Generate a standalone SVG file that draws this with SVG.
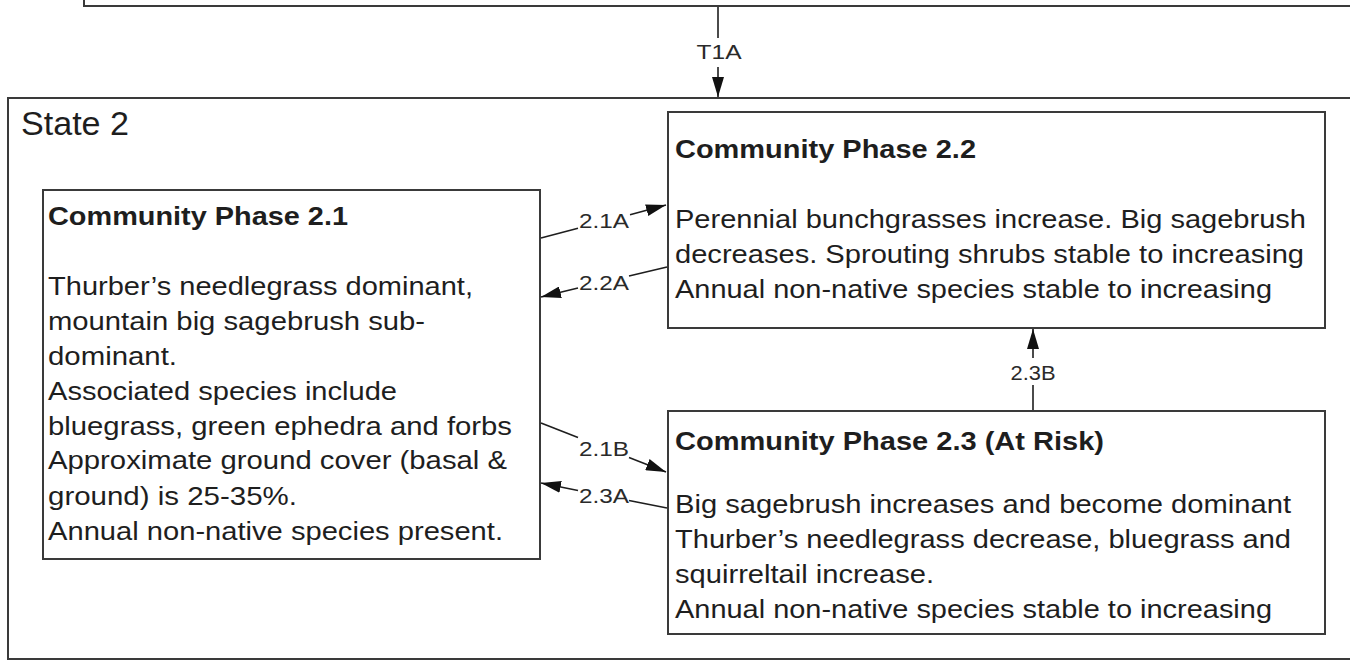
<svg xmlns="http://www.w3.org/2000/svg" width="1350" height="664" viewBox="0 0 1350 664">
<defs>
<style>
.box{fill:#fff;stroke:#3a3a3a;stroke-width:2}
.t{font-family:"Liberation Sans",Arial,sans-serif;font-size:26px;fill:#1e1e1e}
.h{font-weight:bold}
.st{font-family:"Liberation Sans",Arial,sans-serif;font-size:33px;fill:#1e1e1e}
.lb{font-family:"Liberation Sans",Arial,sans-serif;font-size:21px;fill:#2a2a2a;text-anchor:middle}
.c{fill:none;stroke:#1e1e1e;stroke-width:1.6}
</style>
<marker id="ah" viewBox="0 0 20 12" refX="20" refY="6" markerWidth="20" markerHeight="12" markerUnits="userSpaceOnUse" orient="auto">
<path d="M0,0 L20,6 L0,12 Z" fill="#111"/>
</marker>
</defs>
<rect width="1350" height="664" fill="#fff"/>
<g id="state1">
<rect class="box" x="84" y="-20" width="1290" height="26"/>
</g>
<g id="state2">
<rect class="box" x="8" y="98" width="1345" height="561"/>
<text class="st" x="21" y="135" textLength="108" lengthAdjust="spacingAndGlyphs">State 2</text>
</g>
<g id="phase21">
<rect class="box" x="43" y="190" width="497" height="369"/>
<text class="t h" x="48" y="225" textLength="300" lengthAdjust="spacingAndGlyphs">Community Phase 2.1</text>
<text class="t" x="48" y="295" textLength="425" lengthAdjust="spacingAndGlyphs">Thurber’s needlegrass dominant,</text>
<text class="t" x="48" y="330" textLength="377" lengthAdjust="spacingAndGlyphs">mountain big sagebrush sub-</text>
<text class="t" x="48" y="365" textLength="129" lengthAdjust="spacingAndGlyphs">dominant.</text>
<text class="t" x="48" y="400" textLength="349" lengthAdjust="spacingAndGlyphs">Associated species include</text>
<text class="t" x="48" y="435" textLength="464" lengthAdjust="spacingAndGlyphs">bluegrass, green ephedra and forbs</text>
<text class="t" x="48" y="469" textLength="459" lengthAdjust="spacingAndGlyphs">Approximate ground cover (basal &amp;</text>
<text class="t" x="48" y="505" textLength="249" lengthAdjust="spacingAndGlyphs">ground) is 25-35%.</text>
<text class="t" x="48" y="540" textLength="455" lengthAdjust="spacingAndGlyphs">Annual non-native species present.</text>
</g>
<g id="phase22">
<rect class="box" x="668" y="112" width="657" height="216"/>
<text class="t h" x="675" y="158" textLength="301" lengthAdjust="spacingAndGlyphs">Community Phase 2.2</text>
<text class="t" x="675" y="228" textLength="631" lengthAdjust="spacingAndGlyphs">Perennial bunchgrasses increase. Big sagebrush</text>
<text class="t" x="675" y="263" textLength="629" lengthAdjust="spacingAndGlyphs">decreases. Sprouting shrubs stable to increasing</text>
<text class="t" x="675" y="298" textLength="597" lengthAdjust="spacingAndGlyphs">Annual non-native species stable to increasing</text>
</g>
<g id="phase23">
<rect class="box" x="668" y="411" width="657" height="223"/>
<text class="t h" x="675" y="450" textLength="429" lengthAdjust="spacingAndGlyphs">Community Phase 2.3 (At Risk)</text>
<text class="t" x="675" y="513" textLength="616" lengthAdjust="spacingAndGlyphs">Big sagebrush increases and become dominant</text>
<text class="t" x="675" y="548" textLength="616" lengthAdjust="spacingAndGlyphs">Thurber’s needlegrass decrease, bluegrass and</text>
<text class="t" x="675" y="583" textLength="259" lengthAdjust="spacingAndGlyphs">squirreltail increase.</text>
<text class="t" x="675" y="618" textLength="597" lengthAdjust="spacingAndGlyphs">Annual non-native species stable to increasing</text>
</g>
<g id="connectors">
<line class="c" x1="718" y1="7" x2="718" y2="38"/>
<line class="c" x1="718" y1="67" x2="718" y2="97" marker-end="url(#ah)"/>
<text class="lb" x="719" y="59" textLength="45" lengthAdjust="spacingAndGlyphs">T1A</text>
<line class="c" x1="541" y1="238" x2="578" y2="228.3"/>
<line class="c" x1="630" y1="214.7" x2="666" y2="205" marker-end="url(#ah)"/>
<text class="lb" x="604" y="228" textLength="50" lengthAdjust="spacingAndGlyphs">2.1A</text>
<line class="c" x1="667" y1="267" x2="629" y2="276"/>
<line class="c" x1="578" y1="288" x2="541" y2="297" marker-end="url(#ah)"/>
<text class="lb" x="604" y="290" textLength="50" lengthAdjust="spacingAndGlyphs">2.2A</text>
<line class="c" x1="541" y1="423" x2="578" y2="437.5"/>
<line class="c" x1="629" y1="457.5" x2="666" y2="472" marker-end="url(#ah)"/>
<text class="lb" x="604" y="456" textLength="50" lengthAdjust="spacingAndGlyphs">2.1B</text>
<line class="c" x1="667" y1="508" x2="629" y2="500.5"/>
<line class="c" x1="578" y1="490.5" x2="541" y2="483" marker-end="url(#ah)"/>
<text class="lb" x="604" y="503" textLength="50" lengthAdjust="spacingAndGlyphs">2.3A</text>
<line class="c" x1="1033" y1="410" x2="1033" y2="385"/>
<line class="c" x1="1033" y1="358" x2="1033" y2="329" marker-end="url(#ah)"/>
<text class="lb" x="1033" y="380" textLength="45" lengthAdjust="spacingAndGlyphs">2.3B</text>
</g>
</svg>
